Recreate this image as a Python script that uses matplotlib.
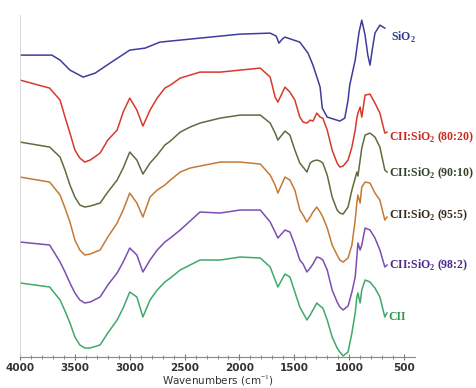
import numpy as np
from matplotlib import pyplot as plt

plt.rcParams['mathtext.fontset'] = 'custom'
plt.rcParams['mathtext.rm'] = 'Liberation Serif'
plt.rcParams['mathtext.bf'] = 'Liberation Serif:bold'

# wavenumber grid shared by the CII samples (cm-1)
wn = [4000, 3730, 3635, 3590, 3545, 3500, 3455, 3410, 3360, 3270, 3200, 3115, 3060, 3000,
      2935, 2880, 2815, 2750, 2680, 2630, 2540, 2450, 2360, 2175, 1995,
      1810, 1720, 1675, 1650, 1585, 1540, 1495, 1450, 1420, 1385, 1355,
      1330, 1295, 1265, 1240, 1200, 1155, 1110, 1085, 1055, 1010, 975, 945, 930, 920, 900,
      885, 855, 810, 765, 720, 675, 655]

# offset transmittance (arbitrary units)
t_80_20 = [280, 272, 260, 243, 227, 210, 202, 198, 200, 207, 220, 230, 248, 262, 250, 234,
           250, 262, 272, 275, 282, 285, 288, 288, 290,
           292, 283, 263, 258, 273, 268, 260, 243, 238, 237, 240, 239, 247, 243, 242,
           230, 210, 197, 193, 194, 200, 213, 230, 242, 247, 253, 243, 265, 266, 257, 247,
           227, 228]
t_90_10 = [218, 213, 203, 190, 175, 163, 155, 153, 154, 157, 168, 180, 192, 208, 200, 186,
           197, 205, 215, 219, 228, 233, 237, 242, 245,
           245, 237, 227, 220, 229, 225, 210, 197, 193, 188, 197, 199, 200, 199, 197,
           185, 163, 150, 147, 146, 153, 170, 182, 188, 184, 200, 212, 225, 227, 223, 213,
           190, 188]
t_95_5 = [183, 178, 165, 152, 138, 120, 110, 105, 106, 110, 123, 137, 150, 167, 157, 143,
          163, 170, 175, 180, 188, 192, 194, 198, 198,
          196, 185, 175, 167, 183, 180, 170, 150, 145, 138, 143, 148, 153, 148, 143,
          132, 115, 105, 100, 98, 102, 115, 140, 157, 165, 157, 173, 178, 177, 167, 160,
          140, 143]
t_98_2 = [118, 115, 98, 88, 77, 67, 60, 57, 58, 63, 75, 87, 98, 112, 105, 88,
          100, 110, 118, 122, 130, 139, 148, 147, 150,
          150, 138, 128, 122, 130, 128, 115, 100, 96, 88, 92, 96, 103, 102, 100,
          90, 70, 58, 53, 50, 54, 68, 83, 103, 117, 110, 115, 132, 130, 122, 110,
          93, 95]
t_cii = [77, 73, 60, 49, 37, 23, 15, 12, 12, 15, 27, 40, 52, 68, 63, 43,
         60, 70, 78, 82, 90, 95, 100, 100, 103,
         102, 93, 80, 73, 86, 83, 68, 53, 47, 40, 45, 50, 57, 54, 52,
         40, 23, 12, 8, 4, 8, 27, 47, 63, 67, 57, 70, 80, 78, 72, 63,
         43, 47]

# pure silica has its own points
wn_sio2 = [4000, 3710, 3635, 3545, 3425, 3315, 3180, 3000, 2860, 2725, 2360, 1995, 1720,
           1665, 1640, 1610, 1585, 1450, 1375, 1330, 1285, 1265, 1245, 1200, 1085, 1040,
           1010, 995, 945, 910, 885, 855, 830, 810, 790, 765, 720, 675]
t_sio2 = [305, 305, 300, 290, 283, 287, 297, 310, 312, 318, 322, 326, 327, 324, 317, 321,
          323, 318, 307, 295, 280, 273, 252, 243, 239, 242, 260, 275, 300, 328, 340, 325,
          305, 295, 310, 327, 335, 332]

labels = ['SiO$_\\mathbf{2}$', 'CII:SiO$_\\mathbf{2}$ (80:20)', 'CII:SiO$_\\mathbf{2}$ (90:10)',
          'CII:SiO$_\\mathbf{2}$ (95:5)', 'CII:SiO$_\\mathbf{2}$ (98:2)', 'CII']
label_y = [323, 223, 187, 145, 95, 43]
line_colors = ['#3d3d9a', '#d8392b', '#5b6e3c', '#c47a35', '#7a4fb0', '#3fa86a']
text_colors = ['#2e3a8c', '#c8281e', '#34422a', '#3a2a1a', '#4b2a8a', '#2e9a50']

fig = plt.figure(figsize=(4.77, 3.88), dpi=100)
ax = fig.add_axes([0.042, 0.080, 0.828, 0.881])

series = [(wn_sio2, t_sio2), (wn, t_80_20), (wn, t_90_10), (wn, t_95_5), (wn, t_98_2), (wn, t_cii)]
for i, (x, y) in enumerate(series):
    ax.plot(x, y, color=line_colors[i], lw=1.1)
    ax.text(640 if i else 615, label_y[i], labels[i], color=text_colors[i],
            fontsize=8.5, fontweight='bold', family='Liberation Serif', va='center', ha='left')

ax.set_xlim(4000, 400)
ax.set_ylim(3, 345)
ax.set_xticks(np.arange(4000, 400, -500))
ax.set_xticks(np.arange(4000, 400, -100), minor=True)
ax.tick_params(axis='x', which='major', direction='inout', length=4, width=0.8,
               color='#777777', labelsize=7.5, pad=2)
ax.tick_params(axis='x', which='minor', direction='inout', length=3, width=0.6, color='#777777')
for t in ax.get_xticklabels():
    t.set_fontweight('bold')
    t.set_color('#333333')
ax.set_yticks([])
ax.spines['top'].set_visible(False)
ax.spines['right'].set_visible(False)
ax.spines['bottom'].set_color('#888888')
ax.spines['left'].set_color('#d0d0d0')
ax.spines['left'].set_linewidth(0.6)
ax.set_xlabel('Wavenumbers (cm$^{-1}$)', fontsize=7.5, color='#333333', labelpad=1)

fig.savefig('out.png', dpi=100)
